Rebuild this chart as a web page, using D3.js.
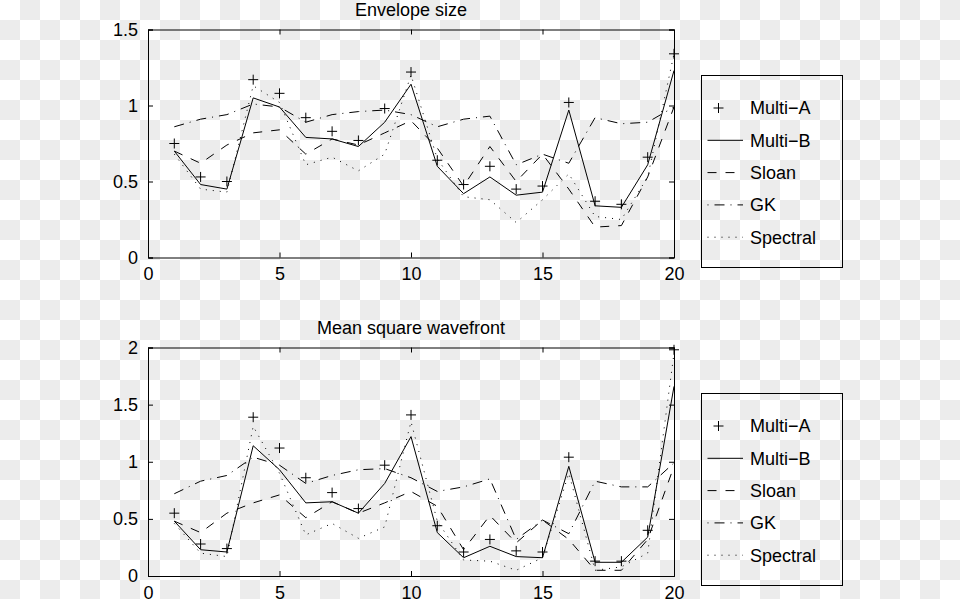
<!DOCTYPE html>
<html>
<head>
<meta charset="utf-8">
<script src="https://cdn.jsdelivr.net/npm/d3@7"></script>
<style>
  body { margin: 0; }
  svg text { font-family: "Liberation Sans", Arial, sans-serif; font-size: 18px; fill: #000; }
</style>
</head>
<body>
<svg id="chart" width="960" height="599"></svg>
<script>
// data
const runs = [1, 2, 3, 4, 5, 6, 7, 8, 9, 10, 11, 12, 13, 14, 15, 16, 17, 18, 19, 20];
const xTicks = [0, 5, 10, 15, 20];
const seriesNames = ["Multi\u2212A", "Multi\u2212B", "Sloan", "GK", "Spectral"];

const envelopeTicks = [0, 0.5, 1, 1.5];
const envMultiA   = [0.75, 0.53, 0.50, 1.17, 1.08, 0.92, 0.83, 0.77, 0.98, 1.22, 0.64, 0.48, 0.60, 0.45, 0.47, 1.02, 0.37, 0.35, 0.66, 1.34];
const envMultiB   = [0.70, 0.48, 0.45, 1.05, 0.99, 0.79, 0.78, 0.73, 0.89, 1.14, 0.60, 0.42, 0.53, 0.41, 0.43, 0.97, 0.34, 0.33, 0.61, 1.23];
const envSloan    = [0.70, 0.62, 0.74, 0.82, 0.84, 0.68, 0.78, 0.74, 0.82, 0.90, 0.72, 0.47, 0.73, 0.50, 0.68, 0.45, 0.20, 0.21, 0.53, 0.99];
const envGK       = [0.86, 0.91, 0.94, 1.01, 0.99, 0.89, 0.94, 0.96, 0.97, 0.94, 0.86, 0.91, 0.93, 0.61, 0.68, 0.62, 0.92, 0.88, 0.89, 0.99];
const envSpectral = [0.68, 0.45, 0.43, 1.13, 1.02, 0.61, 0.66, 0.57, 0.68, 1.20, 0.65, 0.40, 0.38, 0.23, 0.38, 0.55, 0.27, 0.25, 0.53, 1.34];

const wavefrontTicks = [0, 0.5, 1, 1.5, 2];
const msMultiA   = [0.55, 0.28, 0.24, 1.39, 1.12, 0.86, 0.73, 0.59, 0.97, 1.41, 0.44, 0.21, 0.32, 0.22, 0.21, 1.04, 0.13, 0.13, 0.40, 1.98];
const msMultiB   = [0.48, 0.23, 0.21, 1.14, 0.93, 0.64, 0.65, 0.55, 0.81, 1.22, 0.38, 0.16, 0.26, 0.17, 0.16, 0.96, 0.12, 0.12, 0.34, 1.66];
const msSloan    = [0.48, 0.38, 0.55, 0.64, 0.71, 0.51, 0.65, 0.55, 0.64, 0.74, 0.61, 0.23, 0.53, 0.29, 0.49, 0.32, 0.05, 0.05, 0.32, 0.96];
const msGK       = [0.72, 0.83, 0.88, 1.04, 0.97, 0.81, 0.88, 0.93, 0.94, 0.86, 0.74, 0.78, 0.85, 0.32, 0.49, 0.37, 0.83, 0.78, 0.78, 0.99];
const msSpectral = [0.46, 0.20, 0.17, 1.31, 0.90, 0.36, 0.46, 0.33, 0.43, 1.35, 0.48, 0.14, 0.13, 0.05, 0.16, 0.90, 0.05, 0.08, 0.20, 1.95];

// line styles, in the order of seriesNames
const styles = [
  {marker: true,  dash: null,       offset: 0},
  {marker: false, dash: "none",     offset: 0},
  {marker: false, dash: "9,9",      offset: 0},
  {marker: false, dash: "10,6,1,6", offset: 16},
  {marker: false, dash: "1,6",      offset: 0}
];

const panels = [
  {title: "Envelope size", ticks: envelopeTicks, yMax: 1.5, top: 29.5, bottom: 257.5,
   legendTop: 75.5, legendBottom: 267.5,
   series: [envMultiA, envMultiB, envSloan, envGK, envSpectral]},
  {title: "Mean square wavefront", ticks: wavefrontTicks, yMax: 2, top: 347.5, bottom: 576,
   legendTop: 393.5, legendBottom: 585.5,
   series: [msMultiA, msMultiB, msSloan, msGK, msSpectral]}
];

const svg = d3.select("#chart");

// checkerboard backdrop
const pat = svg.append("defs").append("pattern")
  .attr("id", "checker").attr("width", 40).attr("height", 40)
  .attr("patternUnits", "userSpaceOnUse");
pat.append("rect").attr("width", 40).attr("height", 40).attr("fill", "#fff");
pat.append("rect").attr("x", 20).attr("width", 20).attr("height", 20).attr("fill", "#ececec");
pat.append("rect").attr("y", 20).attr("width", 20).attr("height", 20).attr("fill", "#ececec");
svg.append("rect").attr("width", 960).attr("height", 599).attr("fill", "url(#checker)");

const left = 148, right = 674;
const x = d3.scaleLinear().domain([0, 20]).range([left, right]);

function plusPath(cx, cy, r) {
  return `M${cx - r},${cy}H${cx + r}M${cx},${cy - r}V${cy + r}`;
}

panels.forEach(p => {
  const y = d3.scaleLinear().domain([0, p.yMax]).range([p.bottom, p.top]);
  const g = svg.append("g");

  // data lines
  const line = d3.line().x((d, i) => x(runs[i])).y(d => y(d));
  p.series.forEach((vals, k) => {
    const st = styles[k];
    if (st.marker) {
      g.append("path")
        .attr("d", vals.map((v, i) => plusPath(x(runs[i]), y(v), 5)).join(""))
        .attr("stroke", "#000").attr("stroke-width", 1).attr("fill", "none");
    } else {
      g.append("path").datum(vals)
        .attr("d", line)
        .attr("fill", "none").attr("stroke", "#000").attr("stroke-width", 1)
        .attr("stroke-dasharray", st.dash);
    }
  });

  // axes with inward ticks on all four sides
  g.append("g").attr("transform", `translate(0,${p.bottom})`)
    .call(d3.axisBottom(x).tickValues(xTicks).tickSize(-5).tickPadding(10).tickFormat(d3.format("d")));
  g.append("g").attr("transform", `translate(0,${p.top})`)
    .call(d3.axisTop(x).tickValues(xTicks).tickSize(-5).tickFormat(""));
  g.append("g").attr("transform", `translate(${left},0)`)
    .call(d3.axisLeft(y).tickValues(p.ticks).tickSize(-5).tickPadding(10).tickFormat(d3.format("")));
  g.append("g").attr("transform", `translate(${right},0)`)
    .call(d3.axisRight(y).tickValues(p.ticks).tickSize(-5).tickFormat(""));
  g.selectAll(".domain").attr("stroke", "#000");
  g.selectAll(".tick line").attr("stroke", "#000");
  g.selectAll(".tick text").style("font-size", "18px").attr("fill", "#000");

  g.append("text")
    .attr("x", (left + right) / 2).attr("y", p.top - 14)
    .attr("text-anchor", "middle")
    .text(p.title);

  // legend box
  const lg = svg.append("g");
  lg.append("rect")
    .attr("x", 701.5).attr("y", p.legendTop)
    .attr("width", 141).attr("height", p.legendBottom - p.legendTop)
    .attr("fill", "none").attr("stroke", "#000");
  seriesNames.forEach((name, k) => {
    const cy = p.legendTop + 32.5 + k * 32.3;
    const st = styles[k];
    if (st.marker) {
      lg.append("path").attr("d", plusPath(718.5, cy, 5))
        .attr("stroke", "#000").attr("fill", "none");
    } else {
      lg.append("line")
        .attr("x1", 707.5).attr("x2", 743).attr("y1", cy).attr("y2", cy)
        .attr("stroke", "#000").attr("stroke-dasharray", st.dash)
        .attr("stroke-dashoffset", st.offset);
    }
    lg.append("text").attr("x", 750).attr("y", cy).attr("dy", "0.35em").text(name);
  });
});
</script>
</body>
</html>
